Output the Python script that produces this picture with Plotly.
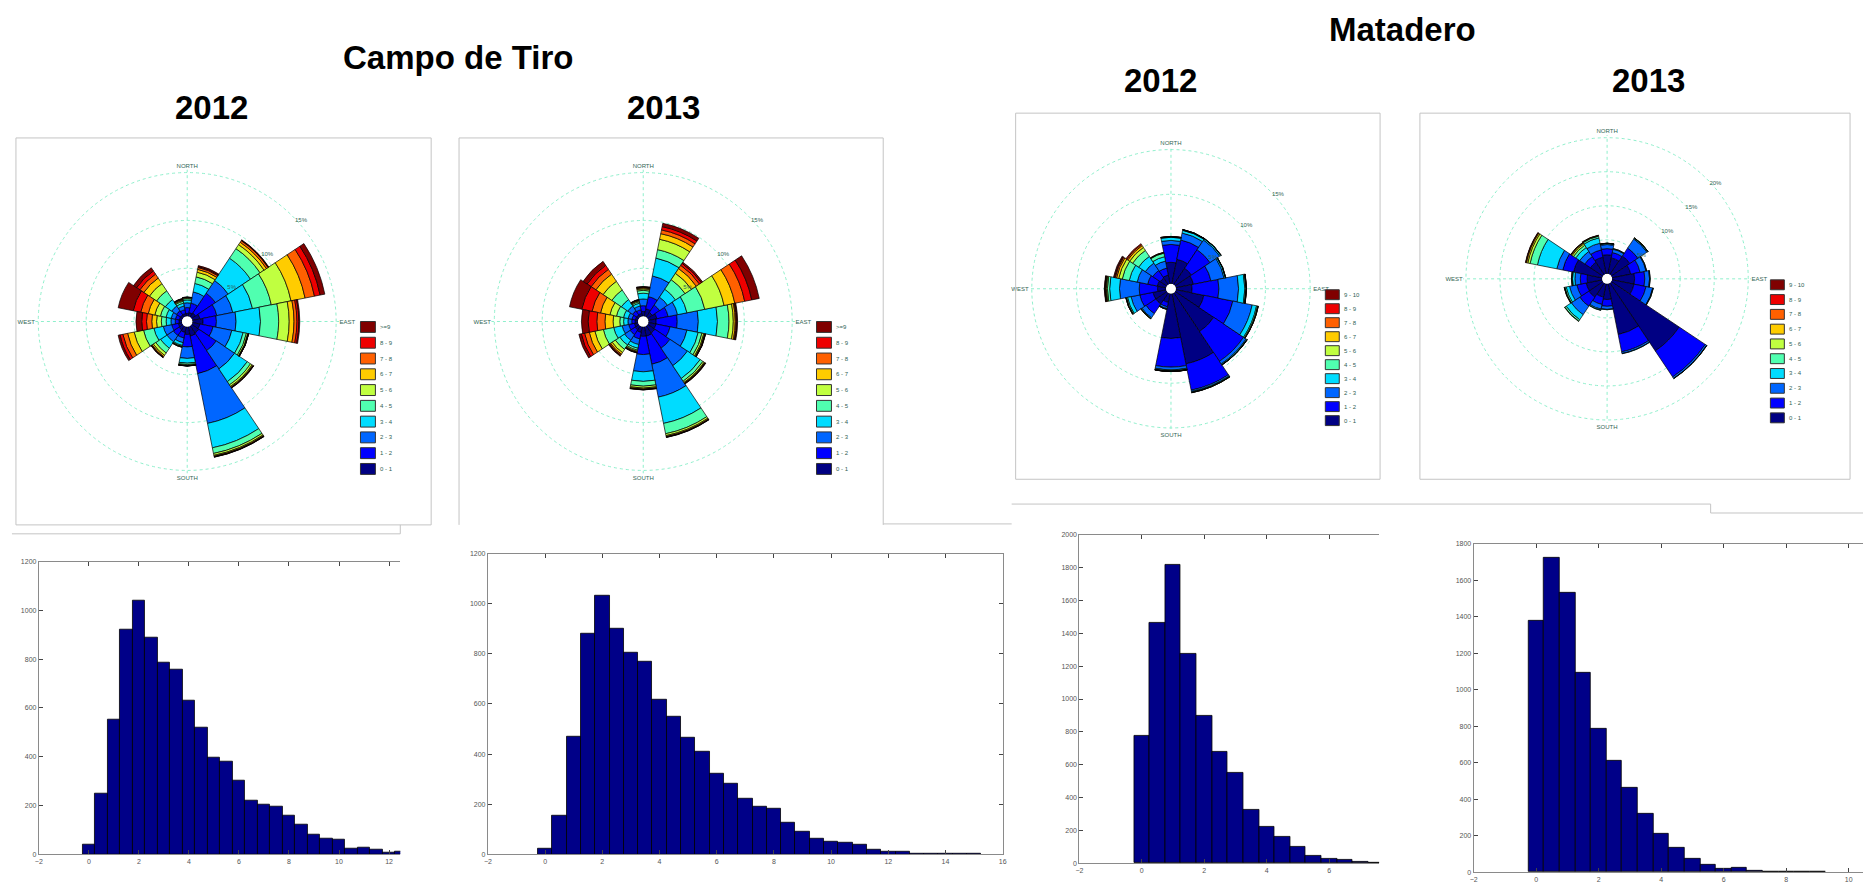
import plotly.graph_objects as go

W, H = 1867, 896

# ---------------------------------------------------------------- wind roses
SECTORS = [0, 22.5, 45, 67.5, 90, 112.5, 135, 157.5,
           180, 202.5, 225, 247.5, 270, 292.5, 315, 337.5]
CARDINALS = ["NORTH", "EAST", "SOUTH", "WEST"]

SPEED_COLORS = ["#000083", "#0000ff", "#0066ff", "#00dcff", "#50ffb0",
                "#c0ff40", "#ffcc00", "#ff6000", "#ee0000", "#800000"]
CAMPO_BINS = ["0 - 1", "1 - 2", "2 - 3", "3 - 4", "4 - 5",
              "5 - 6", "6 - 7", "7 - 8", "8 - 9", ">=9"]
MATADERO_BINS = ["0 - 1", "1 - 2", "2 - 3", "3 - 4", "4 - 5",
                 "5 - 6", "6 - 7", "7 - 8", "8 - 9", "9 - 10"]

# frequency (%) per speed class, sectors clockwise from north
campo12_0_1 = [0.3, 0.4, 0.5, 0.8, 1.1, 0.8, 0.9, 1.0, 0.8, 0.6, 0.5, 0.4, 0.3, 0.3, 0.3, 0.3]
campo12_1_2 = [0.6, 1.0, 2.5, 1.8, 1.4, 1.4, 2.2, 4.0, 1.3, 0.6, 0.7, 0.7, 0.4, 0.4, 0.5, 0.4]
campo12_2_3 = [0.5, 1.2, 1.6, 1.7, 2.05, 2.0, 2.3, 5.3, 1.2, 0.5, 0.8, 0.9, 0.45, 0.45, 0.6, 0.4]
campo12_3_4 = [0.3, 0.9, 2.8, 2.1, 2.55, 1.2, 1.6, 2.6, 0.5, 0.3, 0.8, 1.0, 0.5, 0.55, 0.8, 0.3]
campo12_4_5 = [0.15, 0.7, 1.2, 2.0, 1.9, 0.35, 0.4, 0.6, 0.15, 0.1, 0.6, 1.1, 0.5, 0.6, 1.1, 0.2]
campo12_5_6 = [0.08, 0.5, 0.5, 2.1, 1.1, 0.15, 0.2, 0.2, 0.1, 0.05, 0.3, 1.0, 0.5, 0.6, 0.9, 0.1]
campo12_6_7 = [0.04, 0.3, 0.3, 1.5, 0.5, 0.05, 0.1, 0.1, 0.02, 0.03, 0.15, 0.7, 0.5, 0.7, 0.7, 0.08]
campo12_7_8 = [0.02, 0.2, 0.2, 1.0, 0.3, 0.03, 0.05, 0.05, 0.01, 0.02, 0.08, 0.5, 0.55, 0.8, 0.5, 0.06]
campo12_8_9 = [0.01, 0.1, 0.05, 0.6, 0.2, 0.01, 0.03, 0.03, 0.01, 0.0, 0.04, 0.3, 0.5, 0.8, 0.4, 0.04]
campo12_9up = [0.0, 0.1, 0.05, 0.5, 0.1, 0.01, 0.02, 0.02, 0.01, 0.0, 0.03, 0.2, 0.6, 1.6, 0.4, 0.02]

campo13_0_1 = [0.5, 0.8, 0.6, 0.9, 0.8, 0.8, 0.9, 1.0, 1.0, 0.6, 0.5, 0.4, 0.3, 0.3, 0.3, 0.3]
campo13_1_2 = [0.6, 1.3, 0.9, 1.2, 2.2, 1.5, 1.9, 3.0, 1.9, 0.7, 0.6, 0.6, 0.35, 0.35, 0.5, 0.4]
campo13_2_3 = [0.7, 2.2, 1.0, 1.0, 2.2, 1.8, 2.2, 3.5, 1.8, 0.6, 0.7, 0.7, 0.4, 0.4, 0.6, 0.4]
campo13_3_4 = [0.6, 1.9, 1.0, 1.0, 2.0, 1.2, 1.6, 2.8, 1.0, 0.4, 0.6, 0.9, 0.45, 0.5, 0.8, 0.3]
campo13_4_5 = [0.3, 0.9, 1.2, 1.9, 1.2, 0.4, 0.35, 1.1, 0.5, 0.2, 0.55, 1.1, 0.4, 0.75, 1.2, 0.15]
campo13_5_6 = [0.15, 1.1, 0.8, 2.05, 0.45, 0.2, 0.15, 0.2, 0.2, 0.12, 0.4, 0.9, 0.7, 0.7, 1.1, 0.1]
campo13_6_7 = [0.1, 0.6, 0.6, 1.15, 0.2, 0.1, 0.08, 0.1, 0.1, 0.08, 0.2, 0.6, 0.85, 1.0, 0.9, 0.06]
campo13_7_8 = [0.07, 0.4, 0.4, 1.05, 0.1, 0.05, 0.05, 0.05, 0.05, 0.05, 0.12, 0.5, 0.85, 0.9, 0.6, 0.04]
campo13_8_9 = [0.05, 0.35, 0.25, 0.75, 0.08, 0.03, 0.03, 0.03, 0.03, 0.03, 0.08, 0.35, 0.9, 1.1, 0.5, 0.03]
campo13_9up = [0.03, 0.35, 0.15, 0.8, 0.07, 0.02, 0.04, 0.02, 0.02, 0.02, 0.05, 0.25, 0.7, 1.3, 0.5, 0.02]

matad12_0_1 = [2.4, 2.8, 2.2, 2.0, 1.8, 3.2, 5.2, 8.0, 5.0, 1.0, 1.5, 1.5, 0.95, 1.0, 0.9, 1.0]
matad12_1_2 = [2.0, 2.2, 2.5, 2.0, 3.0, 3.3, 4.0, 3.0, 3.2, 0.5, 1.3, 1.5, 2.05, 1.1, 1.0, 0.8]
matad12_2_3 = [0.45, 0.8, 1.3, 1.5, 2.2, 2.2, 0.35, 0.15, 0.3, 0.2, 0.55, 1.0, 2.2, 1.2, 1.0, 0.8]
matad12_3_4 = [0.35, 0.3, 0.15, 0.15, 0.7, 0.5, 0.1, 0.08, 0.1, 0.07, 0.1, 0.4, 1.1, 0.9, 0.9, 0.5]
matad12_4_5 = [0.05, 0.05, 0.03, 0.03, 0.12, 0.12, 0.03, 0.04, 0.05, 0.02, 0.03, 0.12, 0.25, 0.8, 0.8, 0.4]
matad12_5_6 = [0.02, 0.02, 0.01, 0.01, 0.04, 0.05, 0.01, 0.02, 0.02, 0.01, 0.01, 0.05, 0.12, 0.4, 0.4, 0.05]
matad12_6_7 = [0.01, 0.01, 0.01, 0.01, 0.02, 0.02, 0.01, 0.01, 0.01, 0.0, 0.01, 0.02, 0.08, 0.25, 0.25, 0.03]
matad12_7_8 = [0.01, 0.01, 0.0, 0.0, 0.01, 0.01, 0.0, 0.0, 0.01, 0.0, 0.0, 0.01, 0.06, 0.15, 0.15, 0.02]
matad12_8_9 = [0.01, 0.01, 0.0, 0.0, 0.01, 0.0, 0.0, 0.0, 0.01, 0.0, 0.0, 0.0, 0.05, 0.1, 0.1, 0.0]
matad12_9_10 = [0.0, 0.0, 0.0, 0.0, 0.0, 0.0, 0.0, 0.0, 0.0, 0.0, 0.0, 0.0, 0.04, 0.1, 0.0, 0.0]

matad13_0_1 = [2.8, 2.4, 3.3, 2.8, 3.3, 3.3, 12.0, 7.6, 2.3, 2.0, 2.5, 2.4, 2.2, 4.3, 2.2, 2.5]
matad13_1_2 = [0.9, 0.8, 1.4, 1.4, 1.5, 1.8, 4.6, 2.6, 1.0, 1.1, 1.6, 1.4, 1.0, 1.6, 1.0, 1.1]
matad13_2_3 = [0.6, 0.5, 1.6, 0.9, 0.7, 1.0, 0.25, 0.25, 0.45, 0.7, 1.5, 1.1, 0.8, 0.9, 0.9, 1.0]
matad13_3_4 = [0.15, 0.08, 0.15, 0.08, 0.07, 0.08, 0.04, 0.05, 0.05, 0.15, 0.9, 0.5, 0.35, 2.9, 0.7, 0.8]
matad13_4_5 = [0.03, 0.02, 0.03, 0.02, 0.03, 0.02, 0.01, 0.0, 0.0, 0.05, 0.25, 0.2, 0.1, 1.1, 0.4, 0.25]
matad13_5_6 = [0.01, 0.0, 0.01, 0.0, 0.0, 0.0, 0.0, 0.0, 0.0, 0.0, 0.05, 0.05, 0.03, 0.35, 0.25, 0.08]
matad13_6_7 = [0.01, 0.0, 0.01, 0.0, 0.0, 0.0, 0.0, 0.0, 0.0, 0.0, 0.0, 0.03, 0.02, 0.2, 0.15, 0.04]
matad13_7_8 = [0.0, 0.0, 0.0, 0.0, 0.0, 0.0, 0.0, 0.0, 0.0, 0.0, 0.0, 0.02, 0.0, 0.1, 0.08, 0.03]
matad13_8_9 = [0.0, 0.0, 0.0, 0.0, 0.0, 0.0, 0.0, 0.0, 0.0, 0.0, 0.0, 0.0, 0.0, 0.05, 0.02, 0.0]
matad13_9_10 = [0.0, 0.0, 0.0, 0.0, 0.0, 0.0, 0.0, 0.0, 0.0, 0.0, 0.0, 0.0, 0.0, 0.0, 0.0, 0.0]

# ---------------------------------------------------------------- histograms
campo12_speed = [0, 0.5, 1, 1.5, 2, 2.5, 3, 3.5, 4, 4.5, 5, 5.5, 6, 6.5, 7, 7.5,
                 8, 8.5, 9, 9.5, 10, 10.5, 11, 11.5, 12, 12.5]
campo12_count = [38, 248, 552, 920, 1040, 890, 787, 756, 632, 521, 395, 379, 304, 222, 205, 197,
                 157, 120, 82, 65, 62, 23, 26, 19, 8, 10]

campo13_speed = [0, 0.5, 1, 1.5, 2, 2.5, 3, 3.5, 4, 4.5, 5, 5.5, 6, 6.5, 7, 7.5,
                 8, 8.5, 9, 9.5, 10, 10.5, 11, 11.5, 12, 12.5, 13, 13.5, 14, 14.5, 15]
campo13_count = [24, 155, 468, 881, 1034, 900, 806, 770, 616, 551, 464, 411, 322, 281, 223, 192,
                 181, 125, 89, 61, 50, 48, 37, 20, 9, 9, 3, 4, 3, 1, 3]

matad12_speed = [0, 0.5, 1, 1.5, 2, 2.5, 3, 3.5, 4, 4.5, 5, 5.5, 6, 6.5, 7, 7.5]
matad12_count = [775, 1462, 1819, 1275, 900, 681, 550, 326, 220, 161, 99, 48, 28, 18, 6, 4]

matad13_speed = [0, 0.5, 1, 1.5, 2, 2.5, 3, 3.5, 4, 4.5, 5, 5.5, 6, 6.5, 7, 7.5, 8, 8.5, 9]
matad13_count = [1378, 1726, 1532, 1093, 788, 613, 462, 319, 208, 134, 71, 40, 20, 24, 8, 4, 4, 2, 2]

GRID = "#8ff0cc"
FRAME = "#c4c4c4"
BAR_NAVY = "#000088"
FONT = "Liberation Sans, Arial, sans-serif"


def px(x):
    return x / W


def py(y):
    return 1 - y / H


fig = go.Figure()


def add_rose(subplot, classes, labels):
    for vals, color, lab in zip(classes, SPEED_COLORS, labels):
        fig.add_trace(go.Barpolar(
            r=vals, theta=SECTORS, width=22.5, name=lab, subplot=subplot,
            marker=dict(color=color, line=dict(color="#000000", width=0.7)),
            showlegend=False, hoverinfo="r+theta+name"))


def polar_cfg(cx, cy, R, rmax, rings):
    return dict(
        domain=dict(x=[px(cx - R), px(cx + R)], y=[py(cy + R), py(cy - R)]),
        bgcolor="rgba(0,0,0,0)", hole=0.035, barmode="stack",
        radialaxis=dict(range=[0, rmax], tickvals=rings,
                        ticktext=[f"{v}%" for v in rings], angle=45, tickangle=45,
                        showline=False, ticks="", gridcolor=GRID, griddash="dot",
                        gridwidth=1, tickfont=dict(size=6, color="#336655", family=FONT)),
        angularaxis=dict(rotation=90, direction="clockwise",
                         tickvals=[0, 90, 180, 270], ticktext=CARDINALS,
                         showline=False, ticks="", gridcolor=GRID, griddash="dot",
                         gridwidth=1, tickfont=dict(size=6, color="#336655", family=FONT)),
    )


add_rose("polar", [campo12_0_1, campo12_1_2, campo12_2_3, campo12_3_4, campo12_4_5,
                   campo12_5_6, campo12_6_7, campo12_7_8, campo12_8_9, campo12_9up], CAMPO_BINS)
add_rose("polar2", [campo13_0_1, campo13_1_2, campo13_2_3, campo13_3_4, campo13_4_5,
                    campo13_5_6, campo13_6_7, campo13_7_8, campo13_8_9, campo13_9up], CAMPO_BINS)
add_rose("polar3", [matad12_0_1, matad12_1_2, matad12_2_3, matad12_3_4, matad12_4_5,
                    matad12_5_6, matad12_6_7, matad12_7_8, matad12_8_9, matad12_9_10], MATADERO_BINS)
add_rose("polar4", [matad13_0_1, matad13_1_2, matad13_2_3, matad13_3_4, matad13_4_5,
                    matad13_5_6, matad13_6_7, matad13_7_8, matad13_8_9, matad13_9_10], MATADERO_BINS)

# histograms of wind speed
hists = [(campo12_speed, campo12_count, "x", "y"),
         (campo13_speed, campo13_count, "x2", "y2"),
         (matad12_speed, matad12_count, "x3", "y3"),
         (matad13_speed, matad13_count, "x4", "y4")]
for xs, ys, xa, ya in hists:
    fig.add_trace(go.Bar(x=xs, y=ys, width=0.5, xaxis=xa, yaxis=ya, showlegend=False,
                         marker=dict(color=BAR_NAVY, line=dict(color="#000000", width=0.8))))


def hist_axes(x0, x1, y0, y1, xr, xt, yr, yt, right_line):
    ax_x = dict(domain=[px(x0), px(x1)], range=xr, tickvals=xt, ticks="inside",
                ticklen=4, tickcolor="#444", showline=True, linecolor="#8a8a8a",
                linewidth=1, mirror="ticks", showgrid=False, zeroline=False,
                tickfont=dict(size=7, color="#555", family=FONT))
    ax_y = dict(domain=[py(y1), py(y0)], range=yr, tickvals=yt, ticks="inside",
                ticklen=4, tickcolor="#444", showline=True, linecolor="#8a8a8a",
                linewidth=1, mirror="ticks" if right_line else False,
                showgrid=False, zeroline=False,
                tickfont=dict(size=7, color="#555", family=FONT))
    return ax_x, ax_y


hx1, hy1 = hist_axes(35, 398, 562, 857, [-2, 12.45], list(range(-2, 13, 2)),
                     [0, 1200], list(range(0, 1201, 200)), False)
hx2, hy2 = hist_axes(486, 1003, 554, 857, [-2, 16], list(range(-2, 17, 2)),
                     [0, 1200], list(range(0, 1201, 200)), True)
hx3, hy3 = hist_axes(1080, 1381, 535, 866, [-2, 7.6], list(range(-2, 7, 2)),
                     [0, 2000], list(range(0, 2001, 200)), False)
hx4, hy4 = hist_axes(1476, 1867, 544, 875, [-2, 10.46], list(range(-2, 11, 2)),
                     [0, 1800], list(range(0, 1801, 200)), False)
hx1["anchor"], hy1["anchor"] = "y", "x"
hx2["anchor"], hy2["anchor"] = "y2", "x2"
hx3["anchor"], hy3["anchor"] = "y3", "x3"
hx4["anchor"], hy4["anchor"] = "y4", "x4"

shapes = []
annotations = []


def add_legend(x_left, y_top, step, sw, sh, labels):
    for i, (lab, color) in enumerate(zip(labels[::-1], SPEED_COLORS[::-1])):
        yt = y_top + i * step
        shapes.append(dict(type="rect", xref="paper", yref="paper",
                           x0=px(x_left), x1=px(x_left + sw), y0=py(yt + sh), y1=py(yt),
                           fillcolor=color, line=dict(color="#333333", width=1)))
        annotations.append(dict(xref="paper", yref="paper", x=px(x_left + sw + 3),
                                y=py(yt + sh / 2), text=lab, showarrow=False,
                                xanchor="left", yanchor="middle",
                                font=dict(size=6, color="#2f5f55", family=FONT)))


add_legend(358, 320, 15.9, 15, 11, CAMPO_BINS)
add_legend(816, 320, 15.9, 15, 11, CAMPO_BINS)
add_legend(1327, 288, 14.1, 14, 10, MATADERO_BINS)
add_legend(1774, 278, 14.9, 14, 10, MATADERO_BINS)


def line(x0, y0, x1, y1):
    shapes.append(dict(type="line", xref="paper", yref="paper",
                       x0=px(x0), y0=py(y0), x1=px(x1), y1=py(y1),
                       line=dict(color=FRAME, width=1)))


# panel frames around the roses
for (a, b, c, d) in [(12, 135, 429, 525), (1016, 110, 1382, 479), (1422, 110, 1854, 479)]:
    line(a, b, c, b)
    line(c, b, c, d)
    line(a, d, c, d)
    line(a, b, a, d)
line(457, 135, 883, 135)
line(457, 135, 457, 525)
line(883, 135, 883, 525)
line(883, 524, 1012, 524)
line(8, 534, 398, 534)
line(398, 525, 398, 534)
line(1012, 504, 1714, 504)
line(1714, 504, 1714, 513)
line(1714, 513, 1867, 513)

# titles
titles = [("Campo de Tiro", 456, 54), ("2012", 208, 104), ("2013", 662, 104),
          ("Matadero", 1405, 26), ("2012", 1161, 77), ("2013", 1652, 77)]
for txt, x, y in titles:
    annotations.append(dict(xref="paper", yref="paper", x=px(x), y=py(y), text=f"<b>{txt}</b>",
                            showarrow=False, xanchor="center", yanchor="middle",
                            font=dict(size=33, color="#000000", family=FONT)))

fig.update_layout(
    width=W, height=H, margin=dict(l=0, r=0, t=0, b=0),
    paper_bgcolor="#ffffff", plot_bgcolor="#ffffff",
    polar=polar_cfg(184, 320, 153, 15.3, [5, 10, 15]),
    polar2=polar_cfg(642, 320, 153, 15.3, [5, 10, 15]),
    polar3=polar_cfg(1172, 287, 143, 15.3, [5, 10, 15]),
    polar4=polar_cfg(1610, 277, 145, 20.4, [5, 10, 15, 20]),
    xaxis=hx1, yaxis=hy1, xaxis2=hx2, yaxis2=hy2,
    xaxis3=hx3, yaxis3=hy3, xaxis4=hx4, yaxis4=hy4,
    bargap=0, shapes=shapes, annotations=annotations, showlegend=False,
)

fig.write_html("out.html")
